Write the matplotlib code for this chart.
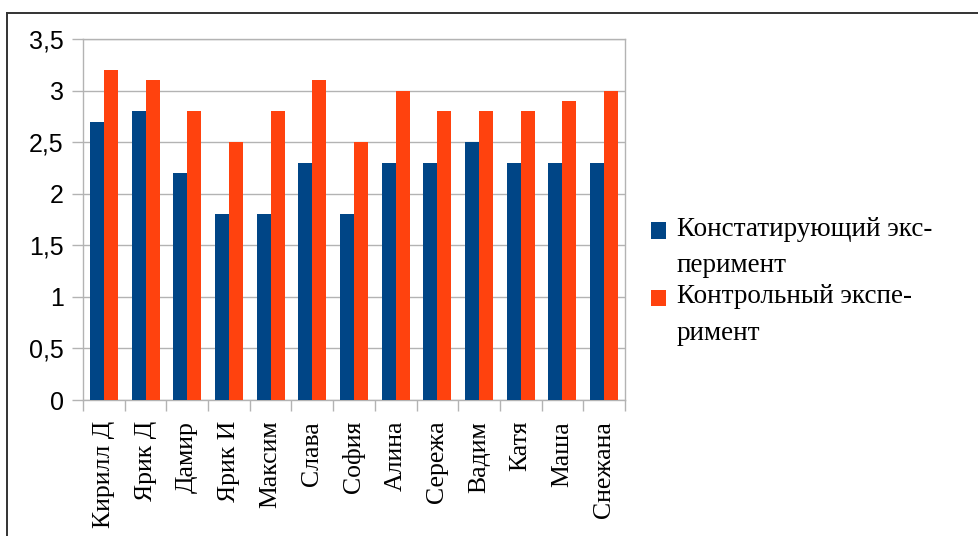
import matplotlib
matplotlib.use("Agg")
import matplotlib.pyplot as plt
import numpy as np
from matplotlib.lines import Line2D
from matplotlib.patches import Rectangle
from matplotlib.container import BarContainer
from matplotlib.legend_handler import HandlerPatch, update_from_first_child

names = ["Кирилл Д", "Ярик Д", "Дамир", "Ярик И", "Максим", "Слава", "София",
         "Алина", "Сережа", "Вадим", "Катя", "Маша", "Снежана"]
stating = [2.7, 2.8, 2.2, 1.8, 1.8, 2.3, 1.8, 2.3, 2.3, 2.5, 2.3, 2.3, 2.3]
control = [3.2, 3.1, 2.8, 2.5, 2.8, 3.1, 2.5, 3.0, 2.8, 2.8, 2.8, 2.9, 3.0]
series_names = ["Констатирующий экс-\nперимент", "Контрольный экспе-\nримент"]
yticks = [0, 0.5, 1, 1.5, 2, 2.5, 3, 3.5]
ytick_labels = ["0", "0,5", "1", "1,5", "2", "2,5", "3", "3,5"]

W, H = 979, 536
fig = plt.figure(figsize=(W / 100, H / 100), dpi=100)
ax = fig.add_axes([83 / W, 1 - 400 / H, (625 - 83) / W, (400 - 39) / H])

# frame edges (top and left) of the chart object
fig.add_artist(Line2D([7 / W, 1.0], [1 - 13 / H, 1 - 13 / H], transform=fig.transFigure,
                      color="#333333", linewidth=1.4))
fig.add_artist(Line2D([7 / W, 7 / W], [0.0, 1 - 13 / H], transform=fig.transFigure,
                      color="#333333", linewidth=1.4))

x = np.arange(len(names))
bw = 0.335
ax.bar(x - bw / 2, stating, bw, color="#004586", label=series_names[0], zorder=3)
ax.bar(x + bw / 2, control, bw, color="#ff420e", label=series_names[1], zorder=3)

ax.set_xlim(-0.5, len(names) - 0.5)
ax.set_ylim(0, 3.5)
ax.set_yticks(yticks)
ax.set_yticklabels(ytick_labels, fontfamily="Liberation Sans", fontsize=18)
ax.yaxis.grid(True, color="#b3b3b3", linewidth=1, zorder=0)
ax.set_axisbelow(True)

ax.set_xticks(x)
ax.set_xticklabels(names, rotation=90, fontfamily="Liberation Serif", fontsize=18.5)
ax.tick_params(axis="x", which="major", length=0, pad=15)
ax.set_xticks(np.arange(-0.5, len(names), 1), minor=True)
ax.tick_params(axis="x", which="minor", length=8, color="#b3b3b3", width=1)
ax.tick_params(axis="y", length=8, color="#b3b3b3", width=1, pad=6)

for s in ax.spines.values():
    s.set_color("#b3b3b3")
    s.set_linewidth(1)

LEG_SIZE = 19.5
LINE_SP = 1.6


def top_square(legend, orig_handle, xdescent, ydescent, width, height, fontsize):
    # keep the key square level with the first line of a two-line label
    shift = 12.3
    return Rectangle((-xdescent, -ydescent + shift), width, height)


leg = ax.legend(loc="upper left", bbox_to_anchor=(651 / W, 1 - 217 / H),
                bbox_transform=fig.transFigure, frameon=False,
                prop={"family": "Liberation Serif", "size": LEG_SIZE},
                handlelength=0.55, handleheight=0.55, handletextpad=0.4,
                labelspacing=0.22, borderaxespad=0, borderpad=0,
                handler_map={BarContainer: HandlerPatch(patch_func=top_square,
                                                        update_func=update_from_first_child)})
for t in leg.get_texts():
    t.set_linespacing(LINE_SP)

fig.savefig("out.png", dpi=100, facecolor="white")
